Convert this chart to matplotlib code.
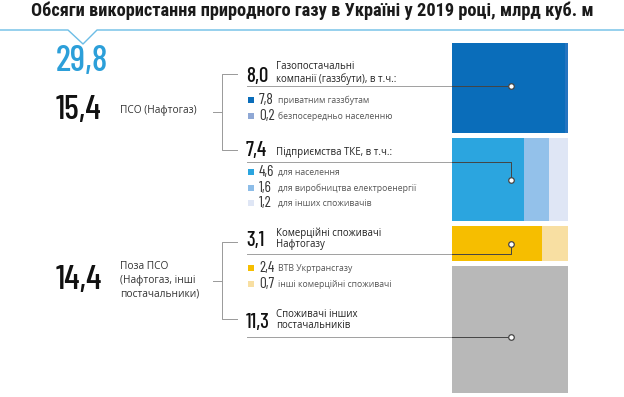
import matplotlib
matplotlib.use('Agg')
import matplotlib.pyplot as plt
from matplotlib.patches import Rectangle

# --- data ---
title = 'Обсяги використання природного газу в Україні у 2019 році, млрд куб. м'
total = 29.8
group_values = [15.4, 14.4]
group_labels = ['ПСО (Нафтогаз)', 'Поза ПСО\n(Нафтогаз, інші\nпостачальники)']

row_values = [8.0, 7.4, 3.1, 11.3]
row_labels = ['Газопостачальні\nкомпанії (газзбути), в т.ч.:',
              'Підприємства ТКЕ, в т.ч.:',
              'Комерційні споживачі\nНафтогазу',
              'Споживачі інших\nпостачальників']
part_values = [[7.8, 0.2], [4.6, 1.6, 1.2], [2.4, 0.7], [11.3]]
part_labels = [['приватним газзбутам', 'безпосередньо населенню'],
               ['для населення', 'для виробництва електроенергії', 'для інших споживачів'],
               ['ВТВ Укртрансгазу', 'інші комерційні споживачі'],
               [None]]
part_colors = [['#0a6dba', '#8fa8d5'],
               ['#2ba5df', '#8dbde8', '#dfe6f5'],
               ['#f6be00', '#f8dfa2'],
               ['#b8b8b8']]
bar_colors = [['#0a6dba', '#2574c0'],
              ['#2ba5df', '#93c1ea', '#dfe6f5'],
              ['#f6be00', '#f8dfa2'],
              ['#b8b8b8']]


def fmt(v):
    return ('%.1f' % v).replace('.', ',')


NUM = ['Barlow Condensed', 'Roboto Condensed', 'DejaVu Sans']
HEAD = ['Roboto Condensed', 'DejaVu Sans']
TXT = ['Open Sans', 'DejaVu Sans']

fig = plt.figure(figsize=(6.24, 3.97), dpi=100)
ax = fig.add_axes([0, 0, 1, 1])
ax.set_xlim(0, 624)
ax.set_ylim(397, 0)
ax.axis('off')

ax.text(312, 11, title, ha='center', va='center', fontsize=13.2,
        fontweight='bold', family=HEAD, color='#1a1a1a')

# top rule with notch
ax.plot([0, 68, 83, 97, 624], [30, 30, 44, 30, 30], color='#6cbde6', lw=1.0)

ax.text(56, 62, fmt(total), ha='left', va='center', fontsize=26,
        fontweight='medium', family=NUM, color='#2c9fd9')

# group totals + brackets
grp_y = [111, 280]
brk = [(74, 150), (242, 319)]
for i in range(2):
    ax.text(56, grp_y[i], fmt(group_values[i]), ha='left', va='center',
            fontsize=25, fontweight='medium', family=NUM, color='#111111')
    ax.text(120, grp_y[i], group_labels[i], ha='left', va='center',
            fontsize=7.3, family=TXT, color='#333333', linespacing=1.35)
    mid = grp_y[i] + 1
    y0, y1 = brk[i]
    ax.plot([213, 222], [mid, mid], color='#999999', lw=0.7)
    ax.plot([237, 222, 222, 237], [y0, y0, y1, y1], color='#999999', lw=0.7)

# bars
px = 11.24
gap = 5
bx0, bw = 452, 116
top = 43
row_y = [76, 151, 240, 322]
row_txt_y = [73, 152, 239, 320]
under_y = [86, 162, 254, 337]
leg_y = [[100, 116], [172, 188, 203], [268, 284], []]
y = top
for r in range(4):
    h = row_values[r] * px
    x = bx0
    tot = sum(part_values[r])
    for v, c in zip(part_values[r], bar_colors[r]):
        w = v / tot * bw
        ax.add_patch(Rectangle((x, y), w, h, facecolor=c, edgecolor='none'))
        x += w
    cy = y + h / 2
    ax.text(246, row_y[r], fmt(row_values[r]), ha='left', va='center',
            fontsize=15, fontweight='medium', family=NUM, color='#111111')
    ax.text(276, row_txt_y[r], row_labels[r], ha='left', va='center',
            fontsize=6.9, family=TXT, color='#222222', linespacing=1.05)
    ax.plot([247, bx0], [under_y[r], under_y[r]], color='#a0a0a0', lw=0.7)
    end_y = cy if r in (1, 2) else under_y[r]
    ax.plot([bx0, 511, 511], [under_y[r], under_y[r], end_y],
            color='#444444', lw=0.7)
    ax.plot(511, end_y, 'o', ms=4, mfc='white', mec='#444444', mew=0.9)
    for k, ly in enumerate(leg_y[r]):
        ax.add_patch(Rectangle((248, ly - 3), 6, 6, facecolor=part_colors[r][k],
                               edgecolor='none'))
        ax.text(259, ly, fmt(part_values[r][k]), ha='left', va='center',
                fontsize=11, family=NUM, color='#333333')
        ax.text(278, ly + 0.5, part_labels[r][k], ha='left', va='center',
                fontsize=6.2, family=TXT, color='#555555')
    y += h + gap

fig.savefig('out.png', dpi=100)
